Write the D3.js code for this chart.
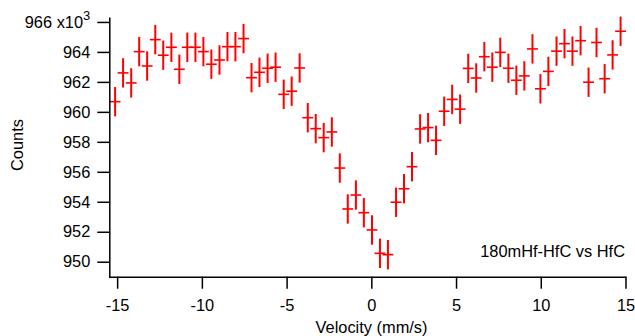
<!DOCTYPE html>
<html>
<head>
<meta charset="utf-8">
<script src="https://cdn.jsdelivr.net/npm/d3@7"></script>
<style>
  html, body { margin: 0; padding: 0; background: #fff; }
  svg { display: block; font-family: "Liberation Sans", Arial, Helvetica, sans-serif; }
</style>
</head>
<body>
<svg id="chart" width="635" height="336"></svg>
<script>
// Velocity (mm/s) of each channel
const velocity = [
  -15.12, -14.65, -14.17, -13.70, -13.23, -12.75, -12.28, -11.80,
  -11.33, -10.86, -10.38, -9.91, -9.44, -8.96, -8.49, -8.02,
  -7.54, -7.07, -6.60, -6.12, -5.65, -5.17, -4.70, -4.23,
  -3.75, -3.28, -2.81, -2.33, -1.86, -1.39, -0.91, -0.44,
  0.04, 0.51, 0.98, 1.46, 1.93, 2.40, 2.88, 3.35,
  3.82, 4.30, 4.77, 5.24, 5.72, 6.19, 6.67, 7.14,
  7.61, 8.09, 8.56, 9.03, 9.51, 9.98, 10.45, 10.93,
  11.40, 11.87, 12.35, 12.82, 13.29, 13.77, 14.24, 14.71
];
// Counts (x10^3)
const counts = [
  960.68, 962.60, 961.93, 964.02, 963.06, 964.82, 963.78, 964.31,
  962.84, 964.31, 964.31, 964.02, 963.18, 963.46, 964.35, 964.35,
  964.89, 962.28, 962.64, 962.91, 962.98, 961.17, 961.38, 962.93,
  959.61, 958.88, 958.28, 958.66, 956.25, 953.52, 954.45, 953.27,
  952.12, 950.56, 950.47, 953.97, 954.87, 956.34, 958.86, 958.95,
  958.10, 960.04, 960.83, 960.18, 962.90, 962.26, 963.68, 962.98,
  963.97, 962.91, 962.11, 962.40, 964.20, 961.54, 962.70, 964.05,
  964.55, 964.05, 964.75, 961.98, 964.63, 962.21, 963.80, 965.38
];
const countErr = 0.98;     // vertical error half-length (x10^3)
const velErr = 0.32;       // horizontal error half-length (mm/s)
const xTicks = [-15, -10, -5, 0, 5, 10, 15];
const yTicks = [950, 952, 954, 956, 958, 960, 962, 964, 966];
const xTitle = "Velocity (mm/s)";
const yTitle = "Counts";
const annotation = "180mHf-HfC vs HfC";

const data = velocity.map((v, i) => ({ v: v, c: counts[i] }));
const FS = 16.4;

const svg = d3.select("#chart");
const x = d3.scaleLinear().domain([-15.51, 15.03]).range([108.5, 626]);
const y = d3.scaleLinear().domain([949.0, 966.33]).range([276.7, 17]);

// Error-bar crosses
const g = svg.append("g").attr("stroke", "#ff0000");
g.selectAll("line.v").data(data).join("line")
  .attr("class", "v")
  .attr("x1", d => x(d.v)).attr("x2", d => x(d.v))
  .attr("y1", d => y(d.c - countErr)).attr("y2", d => y(d.c + countErr))
  .attr("stroke-width", 2);
g.selectAll("line.h").data(data).join("line")
  .attr("class", "h")
  .attr("x1", d => x(d.v - velErr)).attr("x2", d => x(d.v + velErr))
  .attr("y1", d => y(d.c)).attr("y2", d => y(d.c))
  .attr("stroke-width", 1.6);

// Axes
const yAxis = d3.axisLeft(y).tickValues(yTicks).tickSize(12).tickSizeOuter(0).tickPadding(7)
  .tickFormat(d3.format("d"));
const yg = svg.append("g").attr("transform", "translate(109.3,0)").call(yAxis);
const xAxis = d3.axisBottom(x).tickValues(xTicks).tickSize(12).tickSizeOuter(0).tickPadding(10.7)
  .tickFormat(d3.format("d"));
const xg = svg.append("g").attr("transform", "translate(0,276.7)").call(xAxis);

[yg, xg].forEach(a => {
  a.selectAll("path.domain").attr("stroke", "#000").attr("stroke-width", 1.5);
  a.selectAll(".tick line").attr("stroke", "#000").attr("stroke-width", 1.5);
  a.selectAll(".tick text").attr("fill", "#000").attr("font-size", FS)
    .attr("font-family", "Liberation Sans, Arial, sans-serif");
});
xg.selectAll(".tick text").text(d => d < 0 ? "-" + Math.abs(d) : d);

// top label with multiplier
yg.selectAll(".tick text").filter(d => d === 966).each(function () {
  const t = d3.select(this);
  t.text(null);
  t.append("tspan").text("966 x10");
  t.append("tspan").attr("font-size", 13).attr("dy", "-0.6em").text("3");
});

// Titles
svg.append("text")
  .attr("transform", "translate(23,145) rotate(-90)")
  .attr("text-anchor", "middle").attr("font-size", FS).attr("fill", "#000")
  .text(yTitle);
svg.append("text")
  .attr("x", 371.5).attr("y", 333)
  .attr("text-anchor", "middle").attr("font-size", FS).attr("fill", "#000")
  .text(xTitle);
svg.append("text")
  .attr("x", 625).attr("y", 257)
  .attr("text-anchor", "end").attr("font-size", FS).attr("fill", "#000")
  .text(annotation);
</script>
</body>
</html>
